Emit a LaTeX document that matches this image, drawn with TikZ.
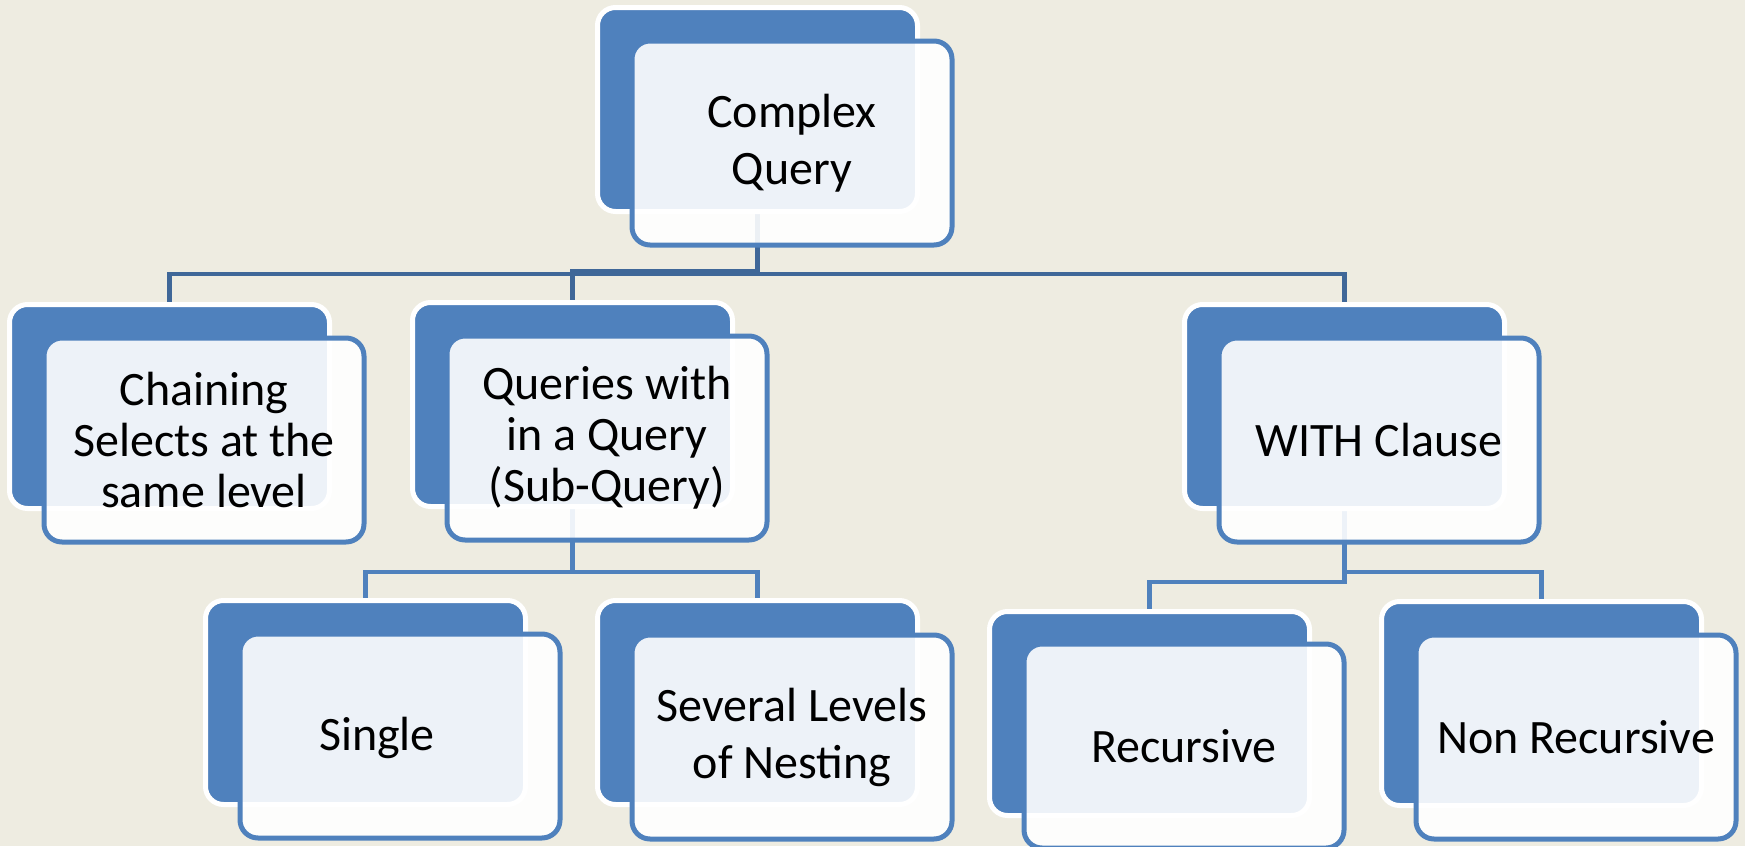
\documentclass[tikz,border=0pt]{standalone}
\usepackage{fontspec}
\setmainfont{Carlito}
\definecolor{paper}{RGB}{238,236,225}
\definecolor{accent}{RGB}{79,129,189}
\definecolor{linkdark}{RGB}{63,103,152}
\pgfdeclarelayer{paperlayer}
\pgfdeclarelayer{linklayer}
\pgfsetlayers{paperlayer,linklayer,main}
\begin{document}
\begin{tikzpicture}[x=0.5pt,y=-0.5pt,
  backbox/.style={rounded corners=9pt, fill=accent, draw=white, line width=2.5pt,
    minimum width=160pt, minimum height=102pt, outer sep=0pt, inner sep=0pt},
  frontbox/.style={rounded corners=9pt, fill=white, fill opacity=0.9, text opacity=1,
    draw=accent, line width=2.5pt, minimum width=160pt, minimum height=102pt,
    outer sep=0pt, inner sep=0pt, align=center, text=black,
    font=\fontsize{24pt}{28.5pt}\selectfont},
  tight/.style={font=\fontsize{24pt}{25.5pt}\selectfont},
  lbl/.style={align=center, text=black, font=\fontsize{24pt}{28.5pt}\selectfont},
  link/.style={line width=2.4pt, draw=accent},
  toplink/.style={link, draw=linkdark}]
\useasboundingbox (0,0) rectangle (1745,846);
\clip (0,0) rectangle (1745,846);
\begin{pgfonlayer}{paperlayer}
  \fill[paper] (0,0) rectangle (1745,846);
\end{pgfonlayer}

% back plates
\node[backbox] (rootB)    at (757.5,109.5) {};
\node[backbox] (chainB)   at (169.5,406.5) {};
\node[backbox] (queryB)   at (572.5,404.5) {};
\node[backbox] (withB)    at (1344.5,406.5) {};
\node[backbox] (singleB)  at (365.5,702.5) {};
\node[backbox] (severalB) at (757.5,702.5) {};
\node[backbox] (recB)     at (1149.5,713.5) {};
\node[backbox] (nonrecB)  at (1541.5,703.5) {};

% front cards
\node[frontbox] (root)    at (792,143)  {Complex\\Query};
\node[frontbox, tight] (chain) at (204,440) {Chaining\\Selects at the\\same level};
\node[frontbox, tight] (query) at (607,438) {Queries with\\in a Query\\(Sub-Query)};
\node[frontbox] (with)    at (1379,440) {WITH Clause};
\node[frontbox] (single)  at (400,736)  {};
\node[lbl] (singleT) at (377,738) {Single};
\node[frontbox] (several) at (792,737)  {Several Levels\\of Nesting};
\node[frontbox] (rec)     at (1184,746) {Recursive};
\node[frontbox] (nonrec)  at (1576,737) {Non Recursive};

% connectors
\begin{pgfonlayer}{linklayer}
  \draw[toplink] (rootB.south) -- ++(0,62.5) -| (chainB.north);
  \draw[toplink] (rootB.south) -- ++(0,60) -| (queryB.north);
  \draw[toplink] (rootB.south) -- ++(0,62.5) -| (withB.north);
  \draw[link] (queryB.south) -- ++(0,65.5) -| (singleB.north);
  \draw[link] (queryB.south) -- ++(0,65.5) -| (severalB.north);
  \draw[link] (withB.south) -- ++(0,73.5) -| (recB.north);
  \draw[link] (withB.south) -- ++(0,63.5) -| (nonrecB.north);
\end{pgfonlayer}
\end{tikzpicture}
\end{document}
